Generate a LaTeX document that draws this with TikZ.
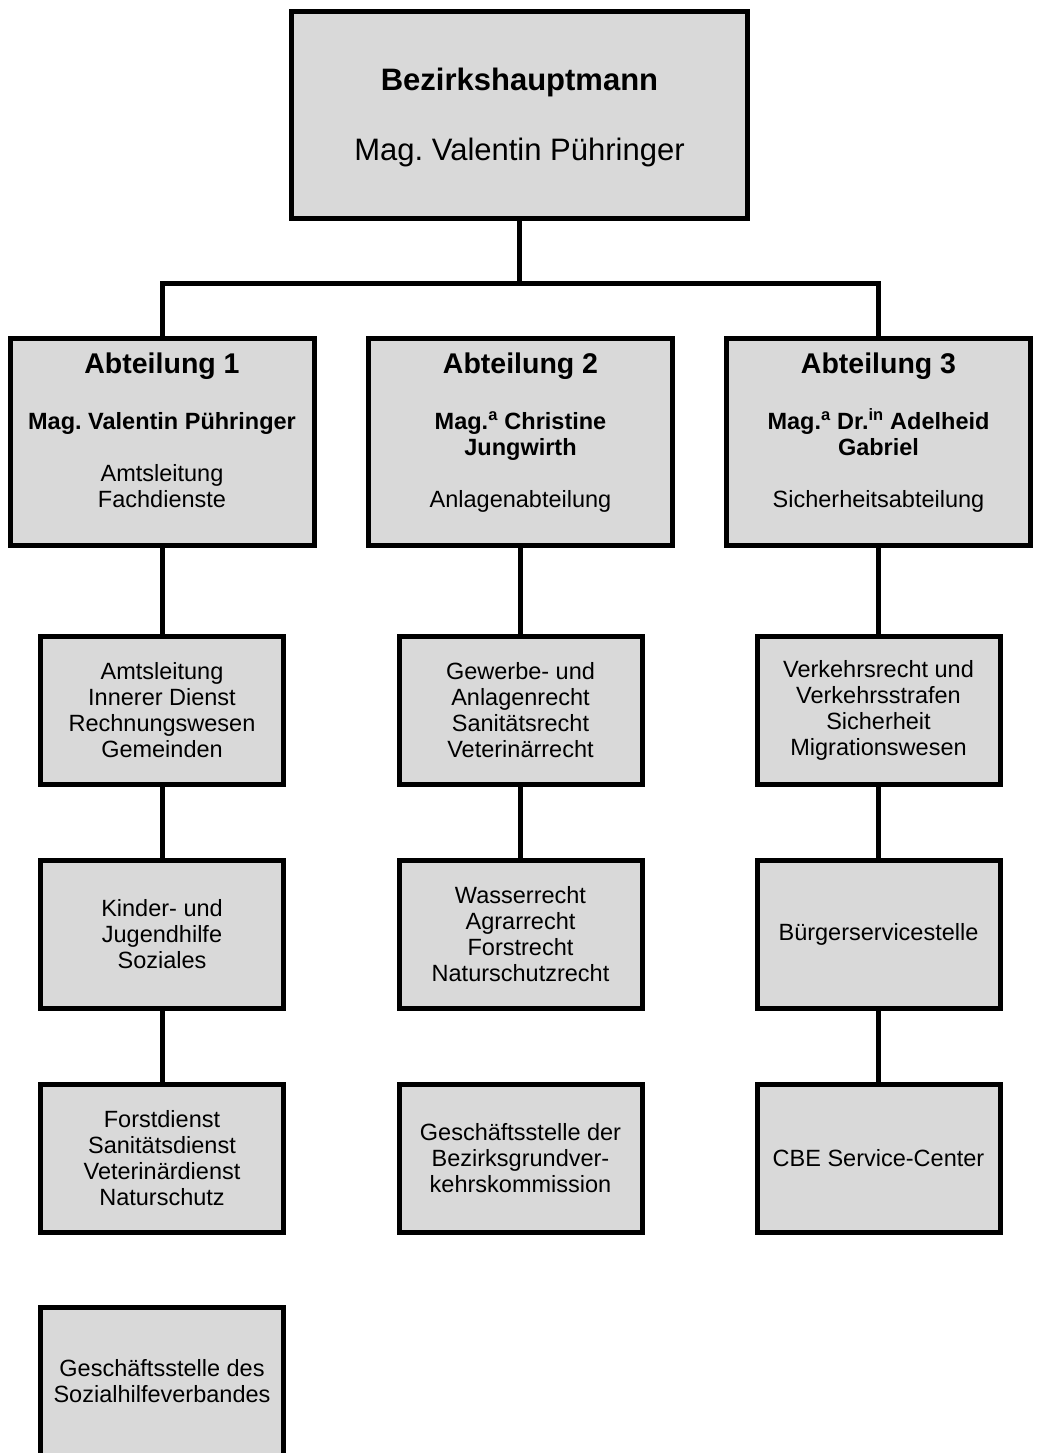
\documentclass[tikz,border=0pt]{standalone}
\usepackage{fontspec}
\setmainfont{Liberation Sans}
\usetikzlibrary{positioning}
\definecolor{boxgray}{HTML}{D9D9D9}
\frenchspacing
\newcommand{\supx}[1]{\smash{\textsuperscript{#1}}}

\begin{document}
\begin{tikzpicture}[x=1pt,y=-1pt,
  unit/.style={rectangle,draw=black,line width=5pt,fill=boxgray,align=center,
    inner sep=0pt,font=\fontsize{23.5}{26}\selectfont},
  small/.style={unit,minimum width=243pt,minimum height=148pt},
  dept/.style={unit,minimum width=304pt,minimum height=207pt,text depth=23pt},
  link/.style={line width=5pt}]
\useasboundingbox (0,0) rectangle (1038,1453);
\clip (0,0) rectangle (1038,1453);
% \draw[help lines] (0,0) grid (1038,1453);
\node (chief) [unit,minimum width=456pt,minimum height=207pt,text depth=0.5pt,
  font=\fontsize{31}{35}\selectfont] at (519.5,115)
  {\textbf{Bezirkshauptmann}\\[35pt]Mag. Valentin Pühringer};
%
\node (abt1) [dept] at (162,442)
  {{\fontsize{28.5}{30}\selectfont\bfseries Abteilung 1}\\[30pt]
   \textbf{Mag. Valentin Pühringer}\\[26pt]Amtsleitung\\Fachdienste};
\node (abt2) [dept] at (520.5,442)
  {{\fontsize{28.5}{30}\selectfont\bfseries Abteilung 2}\\[30pt]
   \textbf{Mag.\supx{a} Christine}\\\textbf{Jungwirth}\\[26pt]Anlagenabteilung};
\node (abt3) [dept] at (878.5,442)
  {{\fontsize{28.5}{30}\selectfont\bfseries Abteilung 3}\\[30pt]
   \textbf{Mag.\supx{a} Dr.\supx{in} Adelheid}\\\textbf{Gabriel}\\[26pt]Sicherheitsabteilung};
%
\node (a1) [small] at (162,710) {Amtsleitung\\Innerer Dienst\\Rechnungswesen\\Gemeinden};
\node (a2) [small] at (162,934.5) {Kinder- und\\Jugendhilfe\\Soziales};
\node (a3) [small] at (162,1158) {Forstdienst\\Sanitätsdienst\\Veterinärdienst\\Naturschutz};
\node (a4) [small] at (162,1381) {Geschäftsstelle des\\Sozialhilfeverbandes};
%
\node (b1) [small] at (520.5,710) {Gewerbe- und\\Anlagenrecht\\Sanitätsrecht\\Veterinärrecht};
\node (b2) [small] at (520.5,934.5) {Wasserrecht\\Agrarrecht\\Forstrecht\\Naturschutzrecht};
\node (b3) [small] at (520.5,1158) {Geschäftsstelle der\\Bezirksgrundver-\\kehrskommission};
%
\node (c1) [small] at (878.5,710) {Verkehrsrecht und\\Verkehrsstrafen\\Sicherheit\\Migrationswesen};
\node (c2) [small] at (878.5,934.5) {Bürgerservicestelle};
\node (c3) [small] at (878.5,1158) {CBE Service-Center};
%
\coordinate (bus) at (519.5,283);
\draw[link] (chief.south) -- (bus);
\draw[link] (abt1.north) |- (bus) -| (abt3.north);
\path[link] (abt1) edge (a1) (a1) edge (a2) (a2) edge (a3);
\path[link] (abt2) edge (b1) (b1) edge (b2);
\path[link] (abt3) edge (c1) (c1) edge (c2) (c2) edge (c3);
\end{tikzpicture}
\end{document}
